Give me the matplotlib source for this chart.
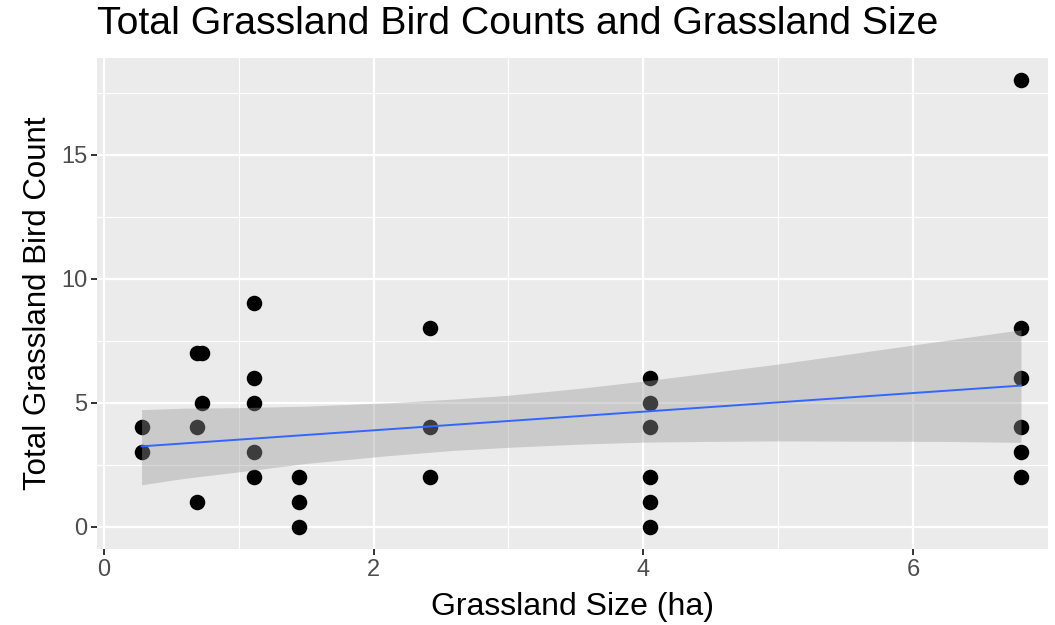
import numpy as np
import matplotlib
matplotlib.use("Agg")
import matplotlib.pyplot as plt
from matplotlib.ticker import MultipleLocator

plt.rcParams['font.family'] = ['Liberation Sans', 'DejaVu Sans']

# Data
grassland_size = [0.28, 0.28,
                  0.69, 0.69, 0.69,
                  0.73, 0.73,
                  1.11, 1.11, 1.11, 1.11, 1.11,
                  1.45, 1.45, 1.45,
                  2.42, 2.42, 2.42,
                  4.05, 4.05, 4.05, 4.05, 4.05, 4.05,
                  6.80, 6.80, 6.80, 6.80, 6.80, 6.80]
bird_count = [4, 3,
              7, 4, 1,
              7, 5,
              9, 6, 5, 3, 2,
              2, 1, 0,
              8, 4, 2,
              6, 5, 4, 2, 1, 0,
              18, 8, 6, 4, 3, 2]

# Fitted line and its 95% confidence band
fit_x = [0.28, 6.80]
fit_y = [3.24, 5.69]
band_x = [0.28, 0.6, 1.0, 1.5, 2.12, 2.6, 3.0, 3.53, 4.0, 4.5, 5.0, 5.5, 6.2, 6.8]
band_upper = [4.72, 4.78, 4.80, 4.86, 5.00, 5.15, 5.30, 5.58, 5.87, 6.21,
              6.56, 6.94, 7.48, 7.94]
band_lower = [1.69, 1.95, 2.21, 2.55, 2.87, 3.08, 3.20, 3.33, 3.41, 3.44,
              3.46, 3.45, 3.44, 3.40]

x_ticks = [0, 2, 4, 6]
y_ticks = [0, 5, 10, 15]

fig = plt.figure(figsize=(10.55, 6.25), dpi=100)
ax = fig.add_axes([0.092, 0.1216, 0.9013, 0.7856])
ax.set_facecolor('#EBEBEB')
for sp in ax.spines.values():
    sp.set_visible(False)

ax.set_xlim(-0.05, 7.0)
ax.set_ylim(-0.9, 18.9)
ax.xaxis.set_minor_locator(MultipleLocator(1))
ax.yaxis.set_minor_locator(MultipleLocator(2.5))
ax.set_xticks(x_ticks)
ax.set_yticks(y_ticks)
ax.grid(which='major', color='white', linewidth=1.6)
ax.grid(which='minor', color='white', linewidth=0.8)
ax.set_axisbelow(True)
ax.tick_params(which='minor', length=0)
ax.tick_params(which='major', length=4, width=1.4, color='#333333',
               labelsize=17, labelcolor='#4D4D4D', pad=3)

ax.scatter(grassland_size, bird_count, s=125, color='black', zorder=2,
           linewidths=0)
ax.fill_between(band_x, band_lower, band_upper,
                color='#999999', alpha=0.4, linewidth=0, zorder=3)
ax.plot(fit_x, fit_y, color='#3366FF', linewidth=1.4, zorder=4)

ax.set_xlabel('Grassland Size (ha)', fontsize=23, labelpad=8)
ax.set_ylabel('Total Grassland Bird Count', fontsize=22.5, labelpad=6)
fig.text(0.092, 0.962, 'Total Grassland Bird Counts and Grassland Size',
         fontsize=28.3, ha='left', va='center')

fig.savefig('out.png', dpi=100)
